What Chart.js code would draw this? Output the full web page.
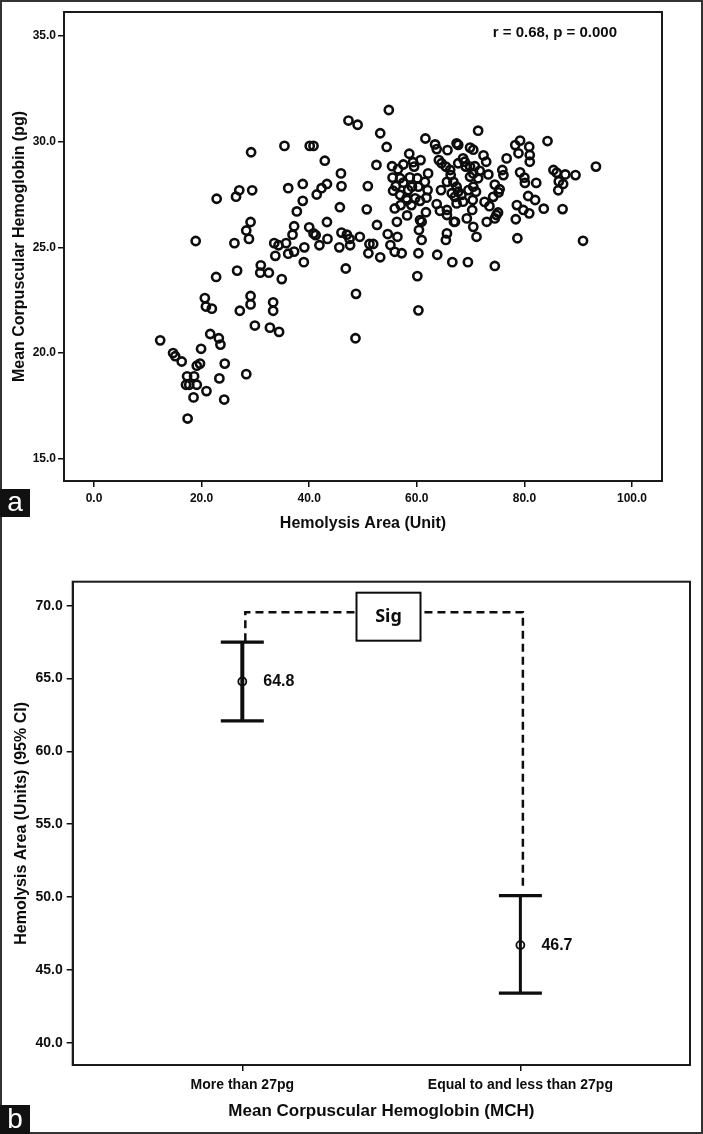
<!DOCTYPE html>
<html><head><meta charset="utf-8">
<script src="https://cdn.jsdelivr.net/npm/chart.js@4.4.1/dist/chart.umd.min.js"></script>
<style>
html,body{margin:0;padding:0;background:#fff;}
#wrap{position:relative;width:703px;height:1134px;overflow:hidden;background:#fff;}
#ca{position:absolute;left:0;top:0;}
#cb{position:absolute;left:0;top:540px;}
.frame{position:absolute;left:0;top:0;width:703px;height:1134px;box-sizing:border-box;border:2px solid #333;pointer-events:none;}
.tag{position:absolute;left:0;width:30px;background:#111;color:#fff;font-family:'Liberation Sans',Arial,sans-serif;font-size:28px;text-align:center;}
</style></head>
<body><div id="wrap">
<canvas id="ca" width="703" height="540"></canvas>
<canvas id="cb" width="703" height="594"></canvas>
<div class="frame"></div>
<div class="tag" style="top:489px;height:28px;line-height:26px;">a</div>
<div class="tag" style="top:1105px;height:29px;line-height:28px;">b</div>
</div>
<script>
// ---------- Panel a: scatter data ----------
const hemolysisArea = [
 12.3,14.7,15.1,16.3,19.9,19.1,19.7,17.3,18.6,17.1,17.7,19.1,18.5,17.4,20.9,23.3,24.3,24.2,28.3,21.6,
 23.2,23.5,20.6,20.8,21.9,22.7,18.9,26.1,26.6,27.1,29.1,29.1,29.9,28.8,28.3,29.1,31.0,30.9,32.5,33.3,
 33.3,32.7,34.4,34.9,33.5,34.3,33.7,35.7,36.1,37.2,36.9,37.2,39.1,39.0,41.9,43.4,40.0,40.8,41.2,43.3,
 29.2,35.4,40.1,40.8,42.9,22.8,26.4,27.0,29.4,36.1,38.8,38.8,37.7,41.4,42.3,43.3,
 47.3,49.0,45.9,46.0,45.7,46.0,47.0,47.5,49.4,45.6,47.6,46.8,48.7,48.6,53.2,54.4,52.5,50.9,50.7,52.6,
 51.2,51.9,51.0,53.2,54.6,56.4,55.1,55.9,57.2,54.8,
 61.6,63.4,63.7,65.7,67.4,67.7,69.9,70.5,71.4,72.4,72.9,76.7,79.2,78.3,80.9,78.9,81.0,81.0,84.3,58.6,
 60.7,59.3,64.1,64.6,68.6,67.7,57.5,
 93.3,55.4,56.5,55.5,59.5,62.1,65.4,66.2,69.1,70.8,69.9,71.7,73.3,70.5,69.9,71.4,75.9,76.1,79.2,80.0,
 80.1,82.2,85.4,86.0,87.6,89.5,86.4,87.2,58.7,60.1,56.9,57.5,61.5,65.6,
 86.3,87.1,74.5,75.4,75.2,74.2,70.5,71.0,70.4,72.6,73.5,80.7,82.0,78.6,79.8,80.9,83.6,67.4,67.7,67.1,
 67.4,64.5,63.7,61.8,60.6,59.7,62.0,60.3,58.1,58.4,59.1,56.1,55.6,56.9,58.2,59.0,57.0,55.9,
 78.4,74.8,75.1,74.5,73.0,70.3,69.3,70.5,67.1,65.6,64.3,66.9,65.6,61.7,60.6,60.9,56.3,58.2,
 60.4,60.9,65.6,65.4,71.1,78.7,90.9,60.3,60.1,60.3,63.8,66.6,69.5,74.5,
 66.3,66.8,68.9,66.5,68.3,68.6,69.6
];
const meanCorpuscularHb = [
 20.6,20.0,19.85,19.6,20.2,19.4,19.5,18.9,18.9,18.5,18.5,18.5,17.9,16.9,18.2,18.8,19.5,17.8,19.0,20.9,
 20.7,20.4,22.6,22.2,22.1,23.6,25.3,25.2,23.9,22.0,22.7,22.3,21.3,25.4,25.8,26.2,24.15,23.8,23.8,22.4,
 22.0,21.2,21.0,23.5,25.2,25.1,24.6,25.2,24.7,24.8,25.6,26.0,25.0,24.3,25.1,25.4,25.95,25.66,25.58,26.2,
 29.5,29.8,29.8,29.8,29.1,27.3,27.4,27.7,27.7,27.8,28.0,27.2,26.7,27.5,27.8,28.0,
 31.0,30.8,28.5,27.9,26.9,25.7,25.6,25.4,25.5,25.0,25.1,24.0,22.8,20.7,30.4,29.75,28.9,27.9,26.8,26.06,
 25.16,25.16,24.72,24.53,25.63,25.5,25.11,24.79,24.72,31.5,
 30.15,29.87,29.65,29.6,29.92,29.85,29.72,29.62,30.52,29.35,29.05,29.21,30.05,29.84,29.76,29.45,29.37,29.05,30.03,29.43,
 29.13,29.03,29.13,28.98,29.21,28.98,28.92,
 28.82,28.84,28.7,28.3,28.82,28.5,28.82,28.66,28.82,28.84,28.82,28.62,28.45,28.5,28.34,28.27,28.66,28.42,28.55,28.3,
 28.05,28.05,28.66,28.53,28.45,28.42,28.12,28.0,28.31,28.27,28.27,28.06,28.1,28.1,
 27.7,26.81,27.97,27.75,27.6,27.39,27.87,27.63,27.24,27.15,26.95,27.43,27.24,27.0,26.77,26.61,26.83,27.87,27.63,27.39,
 27.08,27.71,27.05,27.35,27.2,27.32,27.71,27.87,27.32,27.71,27.87,27.9,27.68,27.48,27.24,27.0,27.0,26.84,
 26.33,26.53,26.65,26.37,26.21,26.77,26.37,25.97,26.21,26.53,26.73,26.21,26.77,26.66,26.29,26.21,26.21,26.51,
 25.82,25.35,25.66,25.35,25.5,25.43,25.31,24.72,23.64,22.02,24.65,24.3,24.3,24.12,
 28.42,28.1,29.05,27.56,27.48,27.16,27.71
];
const xTicksA = [0, 20, 40, 60, 80, 100];
const yTicksA = [15, 20, 25, 30, 35];
const correlationText = 'r = 0.68, p = 0.000';

// ---------- Panel b: mean and 95% CI ----------
const groups = ['More than 27pg', 'Equal to and less than 27pg'];
const means = [64.8, 46.7];
const ciLower = [62.1, 43.4];
const ciUpper = [67.5, 50.1];
const yTicksB = [40, 45, 50, 55, 60, 65, 70];
const sigLevel = 69.55;
const sigText = 'Sig';

const F = "'Liberation Sans', Arial, Helvetica, sans-serif";
const INK = '#0d0d0d';

const frameBox = {
  id: 'frameBox',
  afterDraw(chart) {
    const {ctx, chartArea: a} = chart;
    ctx.save();
    ctx.strokeStyle = '#1a1a1a';
    ctx.lineWidth = 2;
    ctx.strokeRect(a.left, a.top, a.right - a.left, a.bottom - a.top);
    ctx.restore();
  }
};

const annotateR = {
  id: 'annotateR',
  afterDraw(chart) {
    const {ctx, chartArea: a} = chart;
    ctx.save();
    ctx.fillStyle = INK;
    ctx.font = 'bold 15px ' + F;
    ctx.textAlign = 'right';
    ctx.textBaseline = 'middle';
    ctx.fillText(correlationText, a.right - 45, a.top + 21);
    ctx.restore();
  }
};

new Chart(document.getElementById('ca'), {
  type: 'scatter',
  data: {
    datasets: [{
      data: hemolysisArea.map((x, i) => ({x: x, y: meanCorpuscularHb[i]})),
      pointRadius: 4.1, pointHoverRadius: 4.1,
      borderColor: INK, backgroundColor: 'rgba(0,0,0,0)', borderWidth: 2.6
    }]
  },
  options: {
    responsive: false, animation: false, events: [],
    layout: {padding: {left: 0, top: 12, right: 41, bottom: 0}},
    plugins: {legend: {display: false}, tooltip: {enabled: false}},
    scales: {
      x: {
        type: 'linear', min: -5.58, max: 105.58,
        afterFit(s) { s.height = 59; },
        afterBuildTicks(s) { s.ticks = xTicksA.map(v => ({value: v})); },
        grid: {display: true, drawOnChartArea: false, drawTicks: true, tickLength: 6, color: INK, lineWidth: 1.5},
        border: {display: true, color: '#1a1a1a', width: 2},
        ticks: {color: INK, font: {family: F, size: 12, weight: 'bold'}, padding: 4, maxRotation: 0, callback: v => Number(v).toFixed(1)},
        title: {display: true, text: 'Hemolysis Area (Unit)', color: INK, font: {family: F, size: 16, weight: 'bold'}, padding: {top: 0, bottom: 7}}
      },
      y: {
        type: 'linear', min: 13.945, max: 36.136,
        afterFit(s) { s.width = 64; },
        afterBuildTicks(s) { s.ticks = yTicksA.map(v => ({value: v})); },
        grid: {display: true, drawOnChartArea: false, drawTicks: true, tickLength: 6, color: INK, lineWidth: 1.5},
        border: {display: true, color: '#1a1a1a', width: 2},
        ticks: {color: INK, font: {family: F, size: 12, weight: 'bold'}, padding: 2, callback: v => Number(v).toFixed(1)},
        title: {display: true, text: 'Mean Corpuscular Hemoglobin (pg)', color: INK, font: {family: F, size: 16, weight: 'bold'}, padding: {top: 10, bottom: 0}}
      }
    }
  },
  plugins: [frameBox, annotateR]
});

const errorBars = {
  id: 'errorBars',
  beforeDatasetsDraw(chart) {
    const {ctx, scales: {x, y}} = chart;
    ctx.save();
    ctx.strokeStyle = INK;
    groups.forEach((g, i) => {
      const px = x.getPixelForValue(i);
      const yl = y.getPixelForValue(ciLower[i]);
      const yu = y.getPixelForValue(ciUpper[i]);
      ctx.lineWidth = i === 0 ? 4 : 3;
      ctx.beginPath(); ctx.moveTo(px, yl); ctx.lineTo(px, yu); ctx.stroke();
      ctx.lineWidth = 3.2;
      ctx.beginPath();
      ctx.moveTo(px - 21.5, yu); ctx.lineTo(px + 21.5, yu);
      ctx.moveTo(px - 21.5, yl); ctx.lineTo(px + 21.5, yl);
      ctx.stroke();
    });
    // significance bracket
    const yb = y.getPixelForValue(sigLevel);
    const x0 = x.getPixelForValue(0) + 3;
    const x1 = x.getPixelForValue(1) + 2.5;
    const y0 = y.getPixelForValue(ciUpper[0]) - 1;
    const y1 = y.getPixelForValue(ciUpper[1]) - 8;
    ctx.setLineDash([8, 5]);
    ctx.lineWidth = 2.5;
    ctx.beginPath();
    ctx.moveTo(x0, y0); ctx.lineTo(x0, yb); ctx.lineTo(x1, yb); ctx.lineTo(x1, y1);
    ctx.stroke();
    ctx.setLineDash([]);
    const bcx = (x0 + x1) / 2 + 4.4;
    const bw = 64, bh = 48;
    const btop = yb - 19.6;
    ctx.fillStyle = '#fff';
    ctx.fillRect(bcx - bw / 2, btop, bw, bh);
    ctx.lineWidth = 2;
    ctx.strokeRect(bcx - bw / 2, btop, bw, bh);
    ctx.fillStyle = INK;
    ctx.font = "bold 18px 'Noto Sans', 'Open Sans', sans-serif";
    ctx.textAlign = 'center';
    ctx.textBaseline = 'middle';
    ctx.fillText(sigText, bcx, btop + bh / 2);
    ctx.restore();
  },
  afterDatasetsDraw(chart) {
    const {ctx, scales: {x, y}} = chart;
    ctx.save();
    ctx.fillStyle = INK;
    ctx.font = 'bold 16px ' + F;
    ctx.textAlign = 'left';
    ctx.textBaseline = 'middle';
    groups.forEach((g, i) => {
      ctx.fillText(means[i].toFixed(1), x.getPixelForValue(i) + 21, y.getPixelForValue(means[i]));
    });
    ctx.restore();
  }
};

new Chart(document.getElementById('cb'), {
  type: 'scatter',
  data: {
    datasets: [{
      data: groups.map((g, i) => ({x: i, y: means[i]})),
      pointRadius: 4, pointHoverRadius: 4,
      borderColor: INK, backgroundColor: 'rgba(0,0,0,0)', borderWidth: 1.8
    }]
  },
  options: {
    responsive: false, animation: false, events: [],
    layout: {padding: {left: 0, top: 41.7, right: 13, bottom: 0}},
    plugins: {legend: {display: false}, tooltip: {enabled: false}},
    scales: {
      x: {
        type: 'linear', min: -0.61, max: 1.61,
        afterFit(s) { s.height = 69; },
        afterBuildTicks(s) { s.ticks = groups.map((g, i) => ({value: i})); },
        grid: {display: true, drawOnChartArea: false, drawTicks: true, tickLength: 6, color: INK, lineWidth: 1.5},
        border: {display: true, color: '#1a1a1a', width: 2},
        ticks: {color: INK, font: {family: F, size: 14, weight: 'bold'}, padding: 6, maxRotation: 0, callback: v => groups[Math.round(v)]},
        title: {display: true, text: 'Mean Corpuscular Hemoglobin (MCH)', color: INK, font: {family: F, size: 17, weight: 'bold'}, padding: {top: 0, bottom: 12}}
      },
      y: {
        type: 'linear', min: 38.47, max: 71.65,
        afterFit(s) { s.width = 72.7; },
        afterBuildTicks(s) { s.ticks = yTicksB.map(v => ({value: v})); },
        grid: {display: true, drawOnChartArea: false, drawTicks: true, tickLength: 6, color: INK, lineWidth: 1.5},
        border: {display: true, color: '#1a1a1a', width: 2},
        ticks: {color: INK, font: {family: F, size: 14, weight: 'bold'}, padding: 4, callback: v => Number(v).toFixed(1)},
        title: {display: true, text: 'Hemolysis Area (Units) (95% CI)', color: INK, font: {family: F, size: 16, weight: 'bold'}, padding: {top: 12, bottom: 0}}
      }
    }
  },
  plugins: [frameBox, errorBars]
});
</script>
</body></html>
